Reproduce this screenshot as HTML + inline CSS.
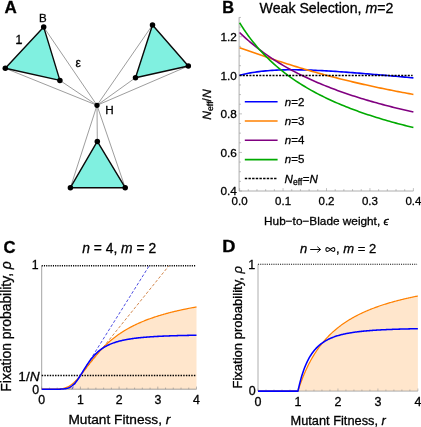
<!DOCTYPE html>
<html lang="en">
<head>
<meta charset="utf-8">
<title>Figure</title>
<style>
html,body{margin:0;padding:0;background:#fff;}
body{width:421px;height:427px;overflow:hidden;}
svg{display:block;will-change:transform;}
svg text{font-family:"Liberation Sans", sans-serif;fill:#000;stroke:#000;stroke-width:0.3px;}
svg g.rot text{text-rendering:geometricPrecision;}
</style>
</head>
<body>
<svg width="421" height="427" viewBox="0 0 421 427">
<rect x="0" y="0" width="421" height="427" fill="#fff"/>
<line x1="97.0" y1="105.3" x2="43.7" y2="27.1" stroke="#6e6e6e" stroke-width="0.68"/>
<line x1="97.0" y1="105.3" x2="5.3" y2="68.3" stroke="#6e6e6e" stroke-width="0.68"/>
<line x1="97.0" y1="105.3" x2="59.9" y2="80.4" stroke="#6e6e6e" stroke-width="0.68"/>
<line x1="97.0" y1="105.3" x2="152.5" y2="25.0" stroke="#6e6e6e" stroke-width="0.68"/>
<line x1="97.0" y1="105.3" x2="135.5" y2="77.7" stroke="#6e6e6e" stroke-width="0.68"/>
<line x1="97.0" y1="105.3" x2="188.3" y2="66.0" stroke="#6e6e6e" stroke-width="0.68"/>
<line x1="97.0" y1="105.3" x2="97.3" y2="141.4" stroke="#6e6e6e" stroke-width="0.68"/>
<line x1="97.0" y1="105.3" x2="70.4" y2="187.7" stroke="#6e6e6e" stroke-width="0.68"/>
<line x1="97.0" y1="105.3" x2="125.2" y2="187.7" stroke="#6e6e6e" stroke-width="0.68"/>
<polygon points="43.7,27.1 5.3,68.3 59.9,80.4" fill="#80F0E0" stroke="#0a0a0a" stroke-width="1.4" stroke-linejoin="round"/>
<polygon points="152.5,25.0 135.5,77.7 188.3,66.0" fill="#80F0E0" stroke="#0a0a0a" stroke-width="1.4" stroke-linejoin="round"/>
<polygon points="97.3,141.4 70.4,187.7 125.2,187.7" fill="#80F0E0" stroke="#0a0a0a" stroke-width="1.4" stroke-linejoin="round"/>
<circle cx="43.7" cy="27.1" r="2.75" fill="#000"/>
<circle cx="5.3" cy="68.3" r="2.75" fill="#000"/>
<circle cx="59.9" cy="80.4" r="2.75" fill="#000"/>
<circle cx="152.5" cy="25.0" r="2.75" fill="#000"/>
<circle cx="135.5" cy="77.7" r="2.75" fill="#000"/>
<circle cx="188.3" cy="66.0" r="2.75" fill="#000"/>
<circle cx="97.3" cy="141.4" r="2.75" fill="#000"/>
<circle cx="70.4" cy="187.7" r="2.75" fill="#000"/>
<circle cx="125.2" cy="187.7" r="2.75" fill="#000"/>
<circle cx="97.0" cy="105.3" r="2.6" fill="#000"/>
<text transform="translate(4.5,12.5) scale(1.07,1)" font-size="15.9" font-weight="bold" stroke="#000" stroke-width="0.5">A</text>
<text x="42.9" y="21.5" font-size="11.5" text-anchor="middle">B</text>
<text x="18.9" y="43.5" font-size="12" text-anchor="middle">1</text>
<line x1="16.5" y1="43.05" x2="22.1" y2="43.05" stroke="#000" stroke-width="0.95"/>
<text x="78.3" y="66.5" font-size="12" text-anchor="middle">ε</text>
<text x="109.4" y="114.3" font-size="11.7" text-anchor="middle">H</text>
<line x1="239.1" y1="17.3" x2="239.1" y2="191.0" stroke="#999999" stroke-width="0.8"/>
<line x1="239.1" y1="191.0" x2="413.4" y2="191.0" stroke="#999999" stroke-width="0.8"/>
<line x1="239.60" y1="191.0" x2="239.60" y2="188.1" stroke="#999999" stroke-width="0.6"/>
<line x1="248.29" y1="191.0" x2="248.29" y2="189.1" stroke="#999999" stroke-width="0.6"/>
<line x1="256.98" y1="191.0" x2="256.98" y2="189.1" stroke="#999999" stroke-width="0.6"/>
<line x1="265.67" y1="191.0" x2="265.67" y2="189.1" stroke="#999999" stroke-width="0.6"/>
<line x1="274.36" y1="191.0" x2="274.36" y2="189.1" stroke="#999999" stroke-width="0.6"/>
<line x1="283.05" y1="191.0" x2="283.05" y2="188.1" stroke="#999999" stroke-width="0.6"/>
<line x1="291.74" y1="191.0" x2="291.74" y2="189.1" stroke="#999999" stroke-width="0.6"/>
<line x1="300.43" y1="191.0" x2="300.43" y2="189.1" stroke="#999999" stroke-width="0.6"/>
<line x1="309.12" y1="191.0" x2="309.12" y2="189.1" stroke="#999999" stroke-width="0.6"/>
<line x1="317.81" y1="191.0" x2="317.81" y2="189.1" stroke="#999999" stroke-width="0.6"/>
<line x1="326.50" y1="191.0" x2="326.50" y2="188.1" stroke="#999999" stroke-width="0.6"/>
<line x1="335.19" y1="191.0" x2="335.19" y2="189.1" stroke="#999999" stroke-width="0.6"/>
<line x1="343.88" y1="191.0" x2="343.88" y2="189.1" stroke="#999999" stroke-width="0.6"/>
<line x1="352.57" y1="191.0" x2="352.57" y2="189.1" stroke="#999999" stroke-width="0.6"/>
<line x1="361.26" y1="191.0" x2="361.26" y2="189.1" stroke="#999999" stroke-width="0.6"/>
<line x1="369.95" y1="191.0" x2="369.95" y2="188.1" stroke="#999999" stroke-width="0.6"/>
<line x1="378.64" y1="191.0" x2="378.64" y2="189.1" stroke="#999999" stroke-width="0.6"/>
<line x1="387.33" y1="191.0" x2="387.33" y2="189.1" stroke="#999999" stroke-width="0.6"/>
<line x1="396.02" y1="191.0" x2="396.02" y2="189.1" stroke="#999999" stroke-width="0.6"/>
<line x1="404.71" y1="191.0" x2="404.71" y2="189.1" stroke="#999999" stroke-width="0.6"/>
<line x1="413.40" y1="191.0" x2="413.40" y2="188.1" stroke="#999999" stroke-width="0.6"/>
<line x1="239.1" y1="191.00" x2="242.0" y2="191.00" stroke="#999999" stroke-width="0.6"/>
<line x1="239.1" y1="181.36" x2="241.0" y2="181.36" stroke="#999999" stroke-width="0.6"/>
<line x1="239.1" y1="171.72" x2="241.0" y2="171.72" stroke="#999999" stroke-width="0.6"/>
<line x1="239.1" y1="162.07" x2="241.0" y2="162.07" stroke="#999999" stroke-width="0.6"/>
<line x1="239.1" y1="152.43" x2="242.0" y2="152.43" stroke="#999999" stroke-width="0.6"/>
<line x1="239.1" y1="142.79" x2="241.0" y2="142.79" stroke="#999999" stroke-width="0.6"/>
<line x1="239.1" y1="133.15" x2="241.0" y2="133.15" stroke="#999999" stroke-width="0.6"/>
<line x1="239.1" y1="123.51" x2="241.0" y2="123.51" stroke="#999999" stroke-width="0.6"/>
<line x1="239.1" y1="113.87" x2="242.0" y2="113.87" stroke="#999999" stroke-width="0.6"/>
<line x1="239.1" y1="104.22" x2="241.0" y2="104.22" stroke="#999999" stroke-width="0.6"/>
<line x1="239.1" y1="94.58" x2="241.0" y2="94.58" stroke="#999999" stroke-width="0.6"/>
<line x1="239.1" y1="84.94" x2="241.0" y2="84.94" stroke="#999999" stroke-width="0.6"/>
<line x1="239.1" y1="75.30" x2="242.0" y2="75.30" stroke="#999999" stroke-width="0.6"/>
<line x1="239.1" y1="65.66" x2="241.0" y2="65.66" stroke="#999999" stroke-width="0.6"/>
<line x1="239.1" y1="56.02" x2="241.0" y2="56.02" stroke="#999999" stroke-width="0.6"/>
<line x1="239.1" y1="46.38" x2="241.0" y2="46.38" stroke="#999999" stroke-width="0.6"/>
<line x1="239.1" y1="36.73" x2="242.0" y2="36.73" stroke="#999999" stroke-width="0.6"/>
<line x1="239.1" y1="27.09" x2="241.0" y2="27.09" stroke="#999999" stroke-width="0.6"/>
<line x1="239.1" y1="17.45" x2="241.0" y2="17.45" stroke="#999999" stroke-width="0.6"/>
<text x="236.9" y="195.20" font-size="11.8" text-anchor="end">0.4</text>
<text x="236.9" y="156.63" font-size="11.8" text-anchor="end">0.6</text>
<text x="236.9" y="118.07" font-size="11.8" text-anchor="end">0.8</text>
<text x="236.9" y="79.50" font-size="11.8" text-anchor="end">1.0</text>
<text x="236.9" y="40.93" font-size="11.8" text-anchor="end">1.2</text>
<text x="239.60" y="205.0" font-size="11.5" text-anchor="middle">0.0</text>
<text x="283.05" y="205.0" font-size="11.5" text-anchor="middle">0.1</text>
<text x="326.50" y="205.0" font-size="11.5" text-anchor="middle">0.2</text>
<text x="369.95" y="205.0" font-size="11.5" text-anchor="middle">0.3</text>
<text x="413.40" y="205.0" font-size="11.5" text-anchor="middle">0.4</text>
<path d="M239.60,75.30 L241.77,74.74 L243.94,74.23 L246.12,73.75 L248.29,73.31 L250.46,72.90 L252.63,72.53 L254.81,72.19 L256.98,71.87 L259.15,71.59 L261.32,71.33 L263.50,71.09 L265.67,70.88 L267.84,70.69 L270.01,70.52 L272.19,70.38 L274.36,70.25 L276.53,70.14 L278.70,70.04 L280.88,69.96 L283.05,69.90 L285.22,69.85 L287.39,69.82 L289.57,69.80 L291.74,69.79 L293.91,69.79 L296.08,69.80 L298.26,69.83 L300.43,69.86 L302.60,69.91 L304.77,69.96 L306.95,70.02 L309.12,70.09 L311.29,70.17 L313.46,70.25 L315.64,70.34 L317.81,70.44 L319.98,70.55 L322.15,70.66 L324.33,70.77 L326.50,70.89 L328.67,71.02 L330.84,71.15 L333.02,71.28 L335.19,71.42 L337.36,71.57 L339.53,71.71 L341.71,71.86 L343.88,72.02 L346.05,72.17 L348.22,72.33 L350.40,72.50 L352.57,72.66 L354.74,72.83 L356.91,73.00 L359.09,73.17 L361.26,73.35 L363.43,73.52 L365.60,73.70 L367.78,73.88 L369.95,74.06 L372.12,74.24 L374.29,74.43 L376.47,74.61 L378.64,74.80 L380.81,74.99 L382.99,75.17 L385.16,75.36 L387.33,75.55 L389.50,75.74 L391.67,75.94 L393.85,76.13 L396.02,76.32 L398.19,76.51 L400.37,76.71 L402.54,76.90 L404.71,77.09 L406.88,77.29 L409.05,77.48 L411.23,77.68 L413.40,77.87" fill="none" stroke="#0000FF" stroke-width="1.6" stroke-linecap="butt"/>
<path d="M239.60,47.75 L241.77,48.51 L243.94,49.27 L246.12,50.03 L248.29,50.79 L250.46,51.55 L252.63,52.31 L254.81,53.07 L256.98,53.82 L259.15,54.57 L261.32,55.32 L263.50,56.06 L265.67,56.80 L267.84,57.54 L270.01,58.27 L272.19,58.99 L274.36,59.72 L276.53,60.43 L278.70,61.14 L280.88,61.85 L283.05,62.55 L285.22,63.24 L287.39,63.93 L289.57,64.61 L291.74,65.29 L293.91,65.96 L296.08,66.62 L298.26,67.28 L300.43,67.93 L302.60,68.58 L304.77,69.22 L306.95,69.86 L309.12,70.48 L311.29,71.11 L313.46,71.72 L315.64,72.33 L317.81,72.94 L319.98,73.54 L322.15,74.13 L324.33,74.72 L326.50,75.30 L328.67,75.88 L330.84,76.45 L333.02,77.01 L335.19,77.57 L337.36,78.12 L339.53,78.67 L341.71,79.21 L343.88,79.75 L346.05,80.28 L348.22,80.81 L350.40,81.33 L352.57,81.85 L354.74,82.36 L356.91,82.86 L359.09,83.37 L361.26,83.86 L363.43,84.35 L365.60,84.84 L367.78,85.32 L369.95,85.80 L372.12,86.27 L374.29,86.74 L376.47,87.20 L378.64,87.66 L380.81,88.11 L382.99,88.56 L385.16,89.01 L387.33,89.45 L389.50,89.89 L391.67,90.32 L393.85,90.75 L396.02,91.17 L398.19,91.59 L400.37,92.01 L402.54,92.42 L404.71,92.83 L406.88,93.24 L409.05,93.64 L411.23,94.04 L413.40,94.43" fill="none" stroke="#FF8000" stroke-width="1.6" stroke-linecap="butt"/>
<path d="M239.60,32.45 L241.77,34.56 L243.94,36.60 L246.12,38.59 L248.29,40.52 L250.46,42.39 L252.63,44.21 L254.81,45.98 L256.98,47.70 L259.15,49.38 L261.32,51.01 L263.50,52.60 L265.67,54.16 L267.84,55.67 L270.01,57.15 L272.19,58.59 L274.36,60.00 L276.53,61.38 L278.70,62.72 L280.88,64.04 L283.05,65.33 L285.22,66.58 L287.39,67.82 L289.57,69.02 L291.74,70.20 L293.91,71.36 L296.08,72.49 L298.26,73.60 L300.43,74.69 L302.60,75.75 L304.77,76.80 L306.95,77.83 L309.12,78.83 L311.29,79.82 L313.46,80.79 L315.64,81.74 L317.81,82.68 L319.98,83.60 L322.15,84.50 L324.33,85.38 L326.50,86.25 L328.67,87.11 L330.84,87.95 L333.02,88.78 L335.19,89.59 L337.36,90.39 L339.53,91.18 L341.71,91.95 L343.88,92.72 L346.05,93.47 L348.22,94.21 L350.40,94.93 L352.57,95.65 L354.74,96.35 L356.91,97.05 L359.09,97.73 L361.26,98.40 L363.43,99.07 L365.60,99.72 L367.78,100.36 L369.95,101.00 L372.12,101.63 L374.29,102.24 L376.47,102.85 L378.64,103.45 L380.81,104.04 L382.99,104.63 L385.16,105.20 L387.33,105.77 L389.50,106.33 L391.67,106.88 L393.85,107.43 L396.02,107.97 L398.19,108.50 L400.37,109.02 L402.54,109.54 L404.71,110.05 L406.88,110.55 L409.05,111.05 L411.23,111.54 L413.40,112.03" fill="none" stroke="#800080" stroke-width="1.6" stroke-linecap="butt"/>
<path d="M239.60,22.71 L241.77,26.18 L243.94,29.49 L246.12,32.66 L248.29,35.70 L250.46,38.62 L252.63,41.41 L254.81,44.10 L256.98,46.69 L259.15,49.18 L261.32,51.58 L263.50,53.90 L265.67,56.14 L267.84,58.30 L270.01,60.39 L272.19,62.41 L274.36,64.37 L276.53,66.27 L278.70,68.11 L280.88,69.89 L283.05,71.62 L285.22,73.31 L287.39,74.94 L289.57,76.53 L291.74,78.08 L293.91,79.59 L296.08,81.05 L298.26,82.48 L300.43,83.87 L302.60,85.23 L304.77,86.55 L306.95,87.84 L309.12,89.10 L311.29,90.33 L313.46,91.53 L315.64,92.71 L317.81,93.85 L319.98,94.98 L322.15,96.07 L324.33,97.15 L326.50,98.20 L328.67,99.22 L330.84,100.23 L333.02,101.22 L335.19,102.18 L337.36,103.13 L339.53,104.06 L341.71,104.97 L343.88,105.86 L346.05,106.73 L348.22,107.59 L350.40,108.43 L352.57,109.26 L354.74,110.07 L356.91,110.87 L359.09,111.65 L361.26,112.42 L363.43,113.18 L365.60,113.92 L367.78,114.65 L369.95,115.36 L372.12,116.07 L374.29,116.76 L376.47,117.44 L378.64,118.11 L380.81,118.77 L382.99,119.42 L385.16,120.06 L387.33,120.69 L389.50,121.31 L391.67,121.92 L393.85,122.51 L396.02,123.11 L398.19,123.69 L400.37,124.26 L402.54,124.82 L404.71,125.38 L406.88,125.93 L409.05,126.47 L411.23,127.00 L413.40,127.53" fill="none" stroke="#00AA00" stroke-width="1.6" stroke-linecap="butt"/>
<line x1="239.5" y1="75.5" x2="412.6" y2="75.5" stroke="#000" stroke-width="1.6" stroke-dasharray="2.0 1.3"/>
<line x1="244.8" y1="101.8" x2="277.6" y2="101.8" stroke="#0000FF" stroke-width="1.6"/>
<text x="284.8" y="105.65" font-size="11.5"><tspan font-style="italic">n</tspan>=2</text>
<line x1="244.8" y1="121.0" x2="277.6" y2="121.0" stroke="#FF8000" stroke-width="1.6"/>
<text x="284.8" y="124.85" font-size="11.5"><tspan font-style="italic">n</tspan>=3</text>
<line x1="244.8" y1="140.3" x2="277.6" y2="140.3" stroke="#800080" stroke-width="1.6"/>
<text x="284.8" y="144.15" font-size="11.5"><tspan font-style="italic">n</tspan>=4</text>
<line x1="244.8" y1="159.6" x2="277.6" y2="159.6" stroke="#00AA00" stroke-width="1.6"/>
<text x="284.8" y="163.45" font-size="11.5"><tspan font-style="italic">n</tspan>=5</text>
<line x1="244.8" y1="178.5" x2="277.2" y2="178.5" stroke="#000" stroke-width="1.6" stroke-dasharray="2.4 1.26"/>
<text x="284.6" y="182.7" font-size="11.6"><tspan font-style="italic">N</tspan><tspan font-size="8.5" dy="2.0" style="font-variant-ligatures:none">eff</tspan><tspan dy="-2.0" dx="0.5">=</tspan><tspan font-style="italic">N</tspan></text>
<text transform="translate(222.2,12.6) scale(1.03,1)" font-size="15.9" font-weight="bold" stroke="#000" stroke-width="0.5">B</text>
<text x="326.5" y="13.2" font-size="14.15" text-anchor="middle">Weak Selection, <tspan font-style="italic">m</tspan>=2</text>
<text x="264.1" y="224.6" font-size="11.8">Hub−to−Blade weight, <tspan font-style="italic">ϵ</tspan></text>
<g class="rot" transform="translate(211.2,104.6) rotate(-90)"><text x="-15.1" y="0" font-size="12" font-style="italic">N</text><text x="-6.35" y="2.0" font-size="8.6" style="font-variant-ligatures:none;font-kerning:none">e<tspan>f</tspan><tspan>f</tspan></text><text x="3.2" y="0" font-size="12">/<tspan font-style="italic">N</tspan></text></g>
<path d="M41.72,389.20 L42.37,389.20 L43.01,389.20 L43.66,389.20 L44.31,389.20 L44.96,389.20 L45.61,389.20 L46.25,389.20 L46.90,389.20 L47.55,389.20 L48.20,389.20 L48.84,389.20 L49.49,389.20 L50.14,389.20 L50.79,389.20 L51.43,389.19 L52.08,389.19 L52.73,389.19 L53.38,389.18 L54.02,389.18 L54.67,389.17 L55.32,389.15 L55.97,389.14 L56.61,389.11 L57.26,389.09 L57.91,389.06 L58.56,389.02 L59.21,388.97 L59.85,388.91 L60.50,388.84 L61.15,388.76 L61.80,388.66 L62.44,388.55 L63.09,388.42 L63.74,388.27 L64.39,388.11 L65.03,387.92 L65.68,387.70 L66.33,387.47 L66.98,387.20 L67.62,386.92 L68.27,386.60 L68.92,386.25 L69.57,385.88 L70.21,385.47 L70.86,385.04 L71.51,384.57 L72.16,384.08 L72.81,383.55 L73.45,383.00 L74.10,382.41 L74.75,381.80 L75.40,381.17 L76.04,380.50 L76.69,379.82 L77.34,379.11 L77.99,378.37 L78.63,377.62 L79.28,376.85 L79.93,376.07 L80.58,375.27 L81.22,374.46 L81.87,373.63 L82.52,372.80 L83.17,371.96 L83.81,371.11 L84.46,370.25 L85.11,369.40 L85.76,368.54 L86.40,367.68 L87.05,366.82 L87.70,365.96 L88.35,365.10 L89.00,364.25 L89.64,363.40 L90.29,362.56 L90.94,361.72 L91.59,360.89 L92.23,360.07 L92.88,359.25 L93.53,358.44 L94.18,357.64 L94.82,356.85 L95.47,356.07 L96.12,355.30 L96.77,354.54 L97.41,353.78 L98.06,353.04 L98.71,352.31 L99.36,351.59 L100.00,350.87 L100.65,350.17 L101.30,349.48 L101.95,348.80 L102.60,348.13 L103.24,347.47 L103.89,346.82 L104.54,346.17 L105.19,345.54 L105.83,344.92 L106.48,344.31 L107.13,343.71 L107.78,343.12 L108.42,342.53 L109.07,341.96 L109.72,341.39 L110.37,340.84 L111.01,340.29 L111.66,339.75 L112.31,339.22 L112.96,338.70 L113.60,338.19 L114.25,337.68 L114.90,337.18 L115.55,336.70 L116.20,336.21 L116.84,335.74 L117.49,335.27 L118.14,334.81 L118.79,334.36 L119.43,333.91 L120.08,333.47 L120.73,333.04 L121.38,332.61 L122.02,332.19 L122.67,331.78 L123.32,331.37 L123.97,330.97 L124.61,330.58 L125.26,330.19 L125.91,329.80 L126.56,329.42 L127.20,329.05 L127.85,328.68 L128.50,328.32 L129.15,327.96 L129.80,327.61 L130.44,327.26 L131.09,326.92 L131.74,326.58 L132.39,326.25 L133.03,325.92 L133.68,325.60 L134.33,325.28 L134.98,324.96 L135.62,324.65 L136.27,324.35 L136.92,324.04 L137.57,323.74 L138.21,323.45 L138.86,323.16 L139.51,322.87 L140.16,322.59 L140.80,322.31 L141.45,322.03 L142.10,321.76 L142.75,321.49 L143.40,321.22 L144.04,320.96 L144.69,320.70 L145.34,320.44 L145.99,320.19 L146.63,319.94 L147.28,319.69 L147.93,319.45 L148.58,319.21 L149.22,318.97 L149.87,318.74 L150.52,318.50 L151.17,318.27 L151.81,318.05 L152.46,317.82 L153.11,317.60 L153.76,317.38 L154.40,317.16 L155.05,316.95 L155.70,316.73 L156.35,316.52 L157.00,316.32 L157.64,316.11 L158.29,315.91 L158.94,315.71 L159.59,315.51 L160.23,315.31 L160.88,315.12 L161.53,314.93 L162.18,314.74 L162.82,314.55 L163.47,314.36 L164.12,314.18 L164.77,314.00 L165.41,313.82 L166.06,313.64 L166.71,313.46 L167.36,313.29 L168.00,313.11 L168.65,312.94 L169.30,312.77 L169.95,312.61 L170.60,312.44 L171.24,312.27 L171.89,312.11 L172.54,311.95 L173.19,311.79 L173.83,311.63 L174.48,311.48 L175.13,311.32 L175.78,311.17 L176.42,311.02 L177.07,310.87 L177.72,310.72 L178.37,310.57 L179.01,310.42 L179.66,310.28 L180.31,310.13 L180.96,309.99 L181.60,309.85 L182.25,309.71 L182.90,309.57 L183.55,309.43 L184.20,309.30 L184.84,309.16 L185.49,309.03 L186.14,308.90 L186.79,308.77 L187.43,308.64 L188.08,308.51 L188.73,308.38 L189.38,308.25 L190.02,308.13 L190.67,308.00 L191.32,307.88 L191.97,307.76 L192.61,307.64 L193.26,307.52 L193.91,307.40 L194.56,307.28 L195.20,307.16 L195.85,307.05 L196.50,306.93 L196.50,389.2 L41.7,389.2 Z" fill="#FFE6CC" stroke="none"/>
<line x1="41.7" y1="265.8" x2="41.7" y2="389.2" stroke="#8c8c8c" stroke-width="0.8"/>
<line x1="41.7" y1="389.2" x2="196.50" y2="389.2" stroke="#8c8c8c" stroke-width="0.8"/>
<line x1="41.70" y1="389.2" x2="41.70" y2="386.59999999999997" stroke="#8c8c8c" stroke-width="0.6"/>
<line x1="49.44" y1="389.2" x2="49.44" y2="387.59999999999997" stroke="#8c8c8c" stroke-width="0.6"/>
<line x1="57.18" y1="389.2" x2="57.18" y2="387.59999999999997" stroke="#8c8c8c" stroke-width="0.6"/>
<line x1="64.92" y1="389.2" x2="64.92" y2="387.59999999999997" stroke="#8c8c8c" stroke-width="0.6"/>
<line x1="72.66" y1="389.2" x2="72.66" y2="387.59999999999997" stroke="#8c8c8c" stroke-width="0.6"/>
<line x1="80.40" y1="389.2" x2="80.40" y2="386.59999999999997" stroke="#8c8c8c" stroke-width="0.6"/>
<line x1="88.14" y1="389.2" x2="88.14" y2="387.59999999999997" stroke="#8c8c8c" stroke-width="0.6"/>
<line x1="95.88" y1="389.2" x2="95.88" y2="387.59999999999997" stroke="#8c8c8c" stroke-width="0.6"/>
<line x1="103.62" y1="389.2" x2="103.62" y2="387.59999999999997" stroke="#8c8c8c" stroke-width="0.6"/>
<line x1="111.36" y1="389.2" x2="111.36" y2="387.59999999999997" stroke="#8c8c8c" stroke-width="0.6"/>
<line x1="119.10" y1="389.2" x2="119.10" y2="386.59999999999997" stroke="#8c8c8c" stroke-width="0.6"/>
<line x1="126.84" y1="389.2" x2="126.84" y2="387.59999999999997" stroke="#8c8c8c" stroke-width="0.6"/>
<line x1="134.58" y1="389.2" x2="134.58" y2="387.59999999999997" stroke="#8c8c8c" stroke-width="0.6"/>
<line x1="142.32" y1="389.2" x2="142.32" y2="387.59999999999997" stroke="#8c8c8c" stroke-width="0.6"/>
<line x1="150.06" y1="389.2" x2="150.06" y2="387.59999999999997" stroke="#8c8c8c" stroke-width="0.6"/>
<line x1="157.80" y1="389.2" x2="157.80" y2="386.59999999999997" stroke="#8c8c8c" stroke-width="0.6"/>
<line x1="165.54" y1="389.2" x2="165.54" y2="387.59999999999997" stroke="#8c8c8c" stroke-width="0.6"/>
<line x1="173.28" y1="389.2" x2="173.28" y2="387.59999999999997" stroke="#8c8c8c" stroke-width="0.6"/>
<line x1="181.02" y1="389.2" x2="181.02" y2="387.59999999999997" stroke="#8c8c8c" stroke-width="0.6"/>
<line x1="188.76" y1="389.2" x2="188.76" y2="387.59999999999997" stroke="#8c8c8c" stroke-width="0.6"/>
<line x1="196.50" y1="389.2" x2="196.50" y2="386.59999999999997" stroke="#8c8c8c" stroke-width="0.6"/>
<line x1="41.7" y1="265.8" x2="195.70" y2="265.8" stroke="#000" stroke-width="1.4" stroke-dasharray="1.12 1.12"/>
<line x1="41.7" y1="375.49" x2="195.70" y2="375.49" stroke="#000" stroke-width="1.35" stroke-dasharray="1.45 1.22"/>
<line x1="71.80" y1="389.2" x2="149.20" y2="265.8" stroke="#4646E0" stroke-width="0.95" stroke-dasharray="3.0 1.9"/>
<line x1="69.34" y1="389.2" x2="168.86" y2="265.8" stroke="#D08244" stroke-width="0.95" stroke-dasharray="3.0 1.9"/>
<path d="M41.72,389.20 L42.37,389.20 L43.01,389.20 L43.66,389.20 L44.31,389.20 L44.96,389.20 L45.61,389.20 L46.25,389.20 L46.90,389.20 L47.55,389.20 L48.20,389.20 L48.84,389.20 L49.49,389.20 L50.14,389.20 L50.79,389.20 L51.43,389.19 L52.08,389.19 L52.73,389.19 L53.38,389.18 L54.02,389.18 L54.67,389.17 L55.32,389.15 L55.97,389.14 L56.61,389.11 L57.26,389.09 L57.91,389.06 L58.56,389.02 L59.21,388.97 L59.85,388.91 L60.50,388.84 L61.15,388.76 L61.80,388.66 L62.44,388.55 L63.09,388.42 L63.74,388.27 L64.39,388.11 L65.03,387.92 L65.68,387.70 L66.33,387.47 L66.98,387.20 L67.62,386.92 L68.27,386.60 L68.92,386.25 L69.57,385.88 L70.21,385.47 L70.86,385.04 L71.51,384.57 L72.16,384.08 L72.81,383.55 L73.45,383.00 L74.10,382.41 L74.75,381.80 L75.40,381.17 L76.04,380.50 L76.69,379.82 L77.34,379.11 L77.99,378.37 L78.63,377.62 L79.28,376.85 L79.93,376.07 L80.58,375.27 L81.22,374.46 L81.87,373.63 L82.52,372.80 L83.17,371.96 L83.81,371.11 L84.46,370.25 L85.11,369.40 L85.76,368.54 L86.40,367.68 L87.05,366.82 L87.70,365.96 L88.35,365.10 L89.00,364.25 L89.64,363.40 L90.29,362.56 L90.94,361.72 L91.59,360.89 L92.23,360.07 L92.88,359.25 L93.53,358.44 L94.18,357.64 L94.82,356.85 L95.47,356.07 L96.12,355.30 L96.77,354.54 L97.41,353.78 L98.06,353.04 L98.71,352.31 L99.36,351.59 L100.00,350.87 L100.65,350.17 L101.30,349.48 L101.95,348.80 L102.60,348.13 L103.24,347.47 L103.89,346.82 L104.54,346.17 L105.19,345.54 L105.83,344.92 L106.48,344.31 L107.13,343.71 L107.78,343.12 L108.42,342.53 L109.07,341.96 L109.72,341.39 L110.37,340.84 L111.01,340.29 L111.66,339.75 L112.31,339.22 L112.96,338.70 L113.60,338.19 L114.25,337.68 L114.90,337.18 L115.55,336.70 L116.20,336.21 L116.84,335.74 L117.49,335.27 L118.14,334.81 L118.79,334.36 L119.43,333.91 L120.08,333.47 L120.73,333.04 L121.38,332.61 L122.02,332.19 L122.67,331.78 L123.32,331.37 L123.97,330.97 L124.61,330.58 L125.26,330.19 L125.91,329.80 L126.56,329.42 L127.20,329.05 L127.85,328.68 L128.50,328.32 L129.15,327.96 L129.80,327.61 L130.44,327.26 L131.09,326.92 L131.74,326.58 L132.39,326.25 L133.03,325.92 L133.68,325.60 L134.33,325.28 L134.98,324.96 L135.62,324.65 L136.27,324.35 L136.92,324.04 L137.57,323.74 L138.21,323.45 L138.86,323.16 L139.51,322.87 L140.16,322.59 L140.80,322.31 L141.45,322.03 L142.10,321.76 L142.75,321.49 L143.40,321.22 L144.04,320.96 L144.69,320.70 L145.34,320.44 L145.99,320.19 L146.63,319.94 L147.28,319.69 L147.93,319.45 L148.58,319.21 L149.22,318.97 L149.87,318.74 L150.52,318.50 L151.17,318.27 L151.81,318.05 L152.46,317.82 L153.11,317.60 L153.76,317.38 L154.40,317.16 L155.05,316.95 L155.70,316.73 L156.35,316.52 L157.00,316.32 L157.64,316.11 L158.29,315.91 L158.94,315.71 L159.59,315.51 L160.23,315.31 L160.88,315.12 L161.53,314.93 L162.18,314.74 L162.82,314.55 L163.47,314.36 L164.12,314.18 L164.77,314.00 L165.41,313.82 L166.06,313.64 L166.71,313.46 L167.36,313.29 L168.00,313.11 L168.65,312.94 L169.30,312.77 L169.95,312.61 L170.60,312.44 L171.24,312.27 L171.89,312.11 L172.54,311.95 L173.19,311.79 L173.83,311.63 L174.48,311.48 L175.13,311.32 L175.78,311.17 L176.42,311.02 L177.07,310.87 L177.72,310.72 L178.37,310.57 L179.01,310.42 L179.66,310.28 L180.31,310.13 L180.96,309.99 L181.60,309.85 L182.25,309.71 L182.90,309.57 L183.55,309.43 L184.20,309.30 L184.84,309.16 L185.49,309.03 L186.14,308.90 L186.79,308.77 L187.43,308.64 L188.08,308.51 L188.73,308.38 L189.38,308.25 L190.02,308.13 L190.67,308.00 L191.32,307.88 L191.97,307.76 L192.61,307.64 L193.26,307.52 L193.91,307.40 L194.56,307.28 L195.20,307.16 L195.85,307.05 L196.50,306.93" fill="none" stroke="#FF8000" stroke-width="1.25"/>
<path d="M41.72,389.20 L42.37,389.20 L43.01,389.20 L43.66,389.20 L44.31,389.20 L44.96,389.20 L45.61,389.20 L46.25,389.20 L46.90,389.20 L47.55,389.20 L48.20,389.20 L48.84,389.20 L49.49,389.20 L50.14,389.20 L50.79,389.20 L51.43,389.20 L52.08,389.20 L52.73,389.20 L53.38,389.20 L54.02,389.20 L54.67,389.20 L55.32,389.20 L55.97,389.19 L56.61,389.19 L57.26,389.19 L57.91,389.18 L58.56,389.17 L59.21,389.16 L59.85,389.15 L60.50,389.13 L61.15,389.10 L61.80,389.07 L62.44,389.03 L63.09,388.98 L63.74,388.92 L64.39,388.84 L65.03,388.75 L65.68,388.64 L66.33,388.50 L66.98,388.34 L67.62,388.15 L68.27,387.93 L68.92,387.67 L69.57,387.38 L70.21,387.04 L70.86,386.66 L71.51,386.23 L72.16,385.75 L72.81,385.22 L73.45,384.64 L74.10,384.00 L74.75,383.32 L75.40,382.58 L76.04,381.80 L76.69,380.96 L77.34,380.09 L77.99,379.17 L78.63,378.22 L79.28,377.24 L79.93,376.24 L80.58,375.21 L81.22,374.16 L81.87,373.11 L82.52,372.05 L83.17,370.98 L83.81,369.92 L84.46,368.87 L85.11,367.83 L85.76,366.80 L86.40,365.79 L87.05,364.80 L87.70,363.82 L88.35,362.87 L89.00,361.95 L89.64,361.05 L90.29,360.17 L90.94,359.32 L91.59,358.50 L92.23,357.71 L92.88,356.94 L93.53,356.20 L94.18,355.48 L94.82,354.79 L95.47,354.12 L96.12,353.48 L96.77,352.86 L97.41,352.27 L98.06,351.70 L98.71,351.15 L99.36,350.62 L100.00,350.11 L100.65,349.62 L101.30,349.15 L101.95,348.69 L102.60,348.25 L103.24,347.83 L103.89,347.43 L104.54,347.04 L105.19,346.67 L105.83,346.31 L106.48,345.96 L107.13,345.62 L107.78,345.30 L108.42,344.99 L109.07,344.69 L109.72,344.41 L110.37,344.13 L111.01,343.86 L111.66,343.60 L112.31,343.35 L112.96,343.11 L113.60,342.88 L114.25,342.65 L114.90,342.44 L115.55,342.23 L116.20,342.03 L116.84,341.83 L117.49,341.64 L118.14,341.46 L118.79,341.28 L119.43,341.11 L120.08,340.95 L120.73,340.79 L121.38,340.63 L122.02,340.48 L122.67,340.34 L123.32,340.20 L123.97,340.06 L124.61,339.93 L125.26,339.80 L125.91,339.67 L126.56,339.55 L127.20,339.44 L127.85,339.32 L128.50,339.21 L129.15,339.11 L129.80,339.00 L130.44,338.90 L131.09,338.80 L131.74,338.71 L132.39,338.62 L133.03,338.53 L133.68,338.44 L134.33,338.35 L134.98,338.27 L135.62,338.19 L136.27,338.11 L136.92,338.04 L137.57,337.96 L138.21,337.89 L138.86,337.82 L139.51,337.75 L140.16,337.69 L140.80,337.62 L141.45,337.56 L142.10,337.50 L142.75,337.44 L143.40,337.38 L144.04,337.32 L144.69,337.27 L145.34,337.21 L145.99,337.16 L146.63,337.11 L147.28,337.06 L147.93,337.01 L148.58,336.96 L149.22,336.91 L149.87,336.87 L150.52,336.82 L151.17,336.78 L151.81,336.74 L152.46,336.69 L153.11,336.65 L153.76,336.61 L154.40,336.58 L155.05,336.54 L155.70,336.50 L156.35,336.46 L157.00,336.43 L157.64,336.39 L158.29,336.36 L158.94,336.33 L159.59,336.30 L160.23,336.26 L160.88,336.23 L161.53,336.20 L162.18,336.17 L162.82,336.14 L163.47,336.12 L164.12,336.09 L164.77,336.06 L165.41,336.03 L166.06,336.01 L166.71,335.98 L167.36,335.96 L168.00,335.93 L168.65,335.91 L169.30,335.89 L169.95,335.86 L170.60,335.84 L171.24,335.82 L171.89,335.80 L172.54,335.77 L173.19,335.75 L173.83,335.73 L174.48,335.71 L175.13,335.69 L175.78,335.67 L176.42,335.66 L177.07,335.64 L177.72,335.62 L178.37,335.60 L179.01,335.58 L179.66,335.57 L180.31,335.55 L180.96,335.53 L181.60,335.52 L182.25,335.50 L182.90,335.48 L183.55,335.47 L184.20,335.45 L184.84,335.44 L185.49,335.42 L186.14,335.41 L186.79,335.40 L187.43,335.38 L188.08,335.37 L188.73,335.36 L189.38,335.34 L190.02,335.33 L190.67,335.32 L191.32,335.30 L191.97,335.29 L192.61,335.28 L193.26,335.27 L193.91,335.26 L194.56,335.25 L195.20,335.23 L195.85,335.22 L196.50,335.21" fill="none" stroke="#0000FF" stroke-width="1.55"/>
<text transform="translate(3.6,252.7) scale(1.05,1)" font-size="15.9" font-weight="bold" stroke="#000" stroke-width="0.5">C</text>
<text x="119.2" y="253.1" font-size="13.85" text-anchor="middle"><tspan font-style="italic">n</tspan> = 4, <tspan font-style="italic">m</tspan> = 2</text>
<text x="38.6" y="269.4" font-size="12.3" text-anchor="end">1</text>
<text x="39.2" y="393.6" font-size="12.3" text-anchor="end">0</text>
<text x="39.6" y="381.3" font-size="13.7" text-anchor="end">1/<tspan font-style="italic">N</tspan></text>
<text x="41.70" y="404.2" font-size="12.3" text-anchor="middle">0</text>
<text x="80.40" y="404.2" font-size="12.3" text-anchor="middle">1</text>
<text x="119.10" y="404.2" font-size="12.3" text-anchor="middle">2</text>
<text x="157.80" y="404.2" font-size="12.3" text-anchor="middle">3</text>
<text x="196.50" y="404.2" font-size="12.3" text-anchor="middle">4</text>
<text x="119.4" y="424.3" font-size="13.7" text-anchor="middle">Mutant Fitness, <tspan font-style="italic">r</tspan></text>
<text transform="translate(10.9,326.4) rotate(-90)" font-size="13.9" text-anchor="middle">Fixation probability, <tspan font-style="italic">ρ</tspan></text>
<path d="M297.97,391.10 L298.72,388.75 L299.48,386.49 L300.23,384.31 L300.99,382.20 L301.74,380.17 L302.49,378.21 L303.25,376.31 L304.00,374.47 L304.76,372.69 L305.51,370.97 L306.27,369.31 L307.02,367.69 L307.77,366.12 L308.53,364.60 L309.28,363.13 L310.04,361.70 L310.79,360.31 L311.54,358.95 L312.30,357.64 L313.05,356.36 L313.81,355.12 L314.56,353.91 L315.32,352.73 L316.07,351.58 L316.82,350.46 L317.58,349.37 L318.33,348.31 L319.09,347.27 L319.84,346.26 L320.59,345.27 L321.35,344.30 L322.10,343.36 L322.86,342.44 L323.61,341.55 L324.37,340.67 L325.12,339.81 L325.87,338.97 L326.63,338.15 L327.38,337.35 L328.14,336.56 L328.89,335.79 L329.64,335.04 L330.40,334.30 L331.15,333.58 L331.91,332.88 L332.66,332.18 L333.42,331.50 L334.17,330.84 L334.92,330.19 L335.68,329.55 L336.43,328.92 L337.19,328.30 L337.94,327.70 L338.69,327.11 L339.45,326.53 L340.20,325.96 L340.96,325.39 L341.71,324.84 L342.46,324.30 L343.22,323.77 L343.97,323.25 L344.73,322.74 L345.48,322.23 L346.24,321.74 L346.99,321.25 L347.74,320.77 L348.50,320.30 L349.25,319.84 L350.01,319.39 L350.76,318.94 L351.51,318.50 L352.27,318.06 L353.02,317.64 L353.78,317.22 L354.53,316.80 L355.29,316.40 L356.04,316.00 L356.79,315.60 L357.55,315.21 L358.30,314.83 L359.06,314.45 L359.81,314.08 L360.56,313.71 L361.32,313.35 L362.07,313.00 L362.83,312.65 L363.58,312.30 L364.34,311.96 L365.09,311.63 L365.84,311.30 L366.60,310.97 L367.35,310.65 L368.11,310.33 L368.86,310.02 L369.61,309.71 L370.37,309.40 L371.12,309.10 L371.88,308.81 L372.63,308.51 L373.39,308.22 L374.14,307.94 L374.89,307.66 L375.65,307.38 L376.40,307.11 L377.16,306.83 L377.91,306.57 L378.66,306.30 L379.42,306.04 L380.17,305.78 L380.93,305.53 L381.68,305.28 L382.43,305.03 L383.19,304.78 L383.94,304.54 L384.70,304.30 L385.45,304.07 L386.21,303.83 L386.96,303.60 L387.71,303.37 L388.47,303.15 L389.22,302.92 L389.98,302.70 L390.73,302.48 L391.48,302.27 L392.24,302.06 L392.99,301.84 L393.75,301.64 L394.50,301.43 L395.26,301.23 L396.01,301.02 L396.76,300.82 L397.52,300.63 L398.27,300.43 L399.03,300.24 L399.78,300.05 L400.53,299.86 L401.29,299.67 L402.04,299.49 L402.80,299.30 L403.55,299.12 L404.31,298.94 L405.06,298.76 L405.81,298.59 L406.57,298.41 L407.32,298.24 L408.08,298.07 L408.83,297.90 L409.58,297.73 L410.34,297.57 L411.09,297.41 L411.85,297.24 L412.60,297.08 L413.36,296.92 L414.11,296.77 L414.86,296.61 L415.62,296.46 L416.37,296.30 L417.13,296.15 L417.88,296.00 L417.88,391.1 L297.97,391.1 Z" fill="#FFE6CC" stroke="none"/>
<line x1="258.0" y1="264.3" x2="258.0" y2="391.1" stroke="#9a9a9a" stroke-width="0.8"/>
<line x1="258.0" y1="391.1" x2="417.88" y2="391.1" stroke="#9a9a9a" stroke-width="0.8"/>
<line x1="258.00" y1="391.1" x2="258.00" y2="388.5" stroke="#9a9a9a" stroke-width="0.6"/>
<line x1="265.99" y1="391.1" x2="265.99" y2="389.5" stroke="#9a9a9a" stroke-width="0.6"/>
<line x1="273.99" y1="391.1" x2="273.99" y2="389.5" stroke="#9a9a9a" stroke-width="0.6"/>
<line x1="281.98" y1="391.1" x2="281.98" y2="389.5" stroke="#9a9a9a" stroke-width="0.6"/>
<line x1="289.98" y1="391.1" x2="289.98" y2="389.5" stroke="#9a9a9a" stroke-width="0.6"/>
<line x1="297.97" y1="391.1" x2="297.97" y2="388.5" stroke="#9a9a9a" stroke-width="0.6"/>
<line x1="305.96" y1="391.1" x2="305.96" y2="389.5" stroke="#9a9a9a" stroke-width="0.6"/>
<line x1="313.96" y1="391.1" x2="313.96" y2="389.5" stroke="#9a9a9a" stroke-width="0.6"/>
<line x1="321.95" y1="391.1" x2="321.95" y2="389.5" stroke="#9a9a9a" stroke-width="0.6"/>
<line x1="329.95" y1="391.1" x2="329.95" y2="389.5" stroke="#9a9a9a" stroke-width="0.6"/>
<line x1="337.94" y1="391.1" x2="337.94" y2="388.5" stroke="#9a9a9a" stroke-width="0.6"/>
<line x1="345.93" y1="391.1" x2="345.93" y2="389.5" stroke="#9a9a9a" stroke-width="0.6"/>
<line x1="353.93" y1="391.1" x2="353.93" y2="389.5" stroke="#9a9a9a" stroke-width="0.6"/>
<line x1="361.92" y1="391.1" x2="361.92" y2="389.5" stroke="#9a9a9a" stroke-width="0.6"/>
<line x1="369.92" y1="391.1" x2="369.92" y2="389.5" stroke="#9a9a9a" stroke-width="0.6"/>
<line x1="377.91" y1="391.1" x2="377.91" y2="388.5" stroke="#9a9a9a" stroke-width="0.6"/>
<line x1="385.90" y1="391.1" x2="385.90" y2="389.5" stroke="#9a9a9a" stroke-width="0.6"/>
<line x1="393.90" y1="391.1" x2="393.90" y2="389.5" stroke="#9a9a9a" stroke-width="0.6"/>
<line x1="401.89" y1="391.1" x2="401.89" y2="389.5" stroke="#9a9a9a" stroke-width="0.6"/>
<line x1="409.89" y1="391.1" x2="409.89" y2="389.5" stroke="#9a9a9a" stroke-width="0.6"/>
<line x1="417.88" y1="391.1" x2="417.88" y2="388.5" stroke="#9a9a9a" stroke-width="0.6"/>
<line x1="258.0" y1="264.3" x2="417.08" y2="264.3" stroke="#111" stroke-width="1.05" stroke-dasharray="1.1 1.1"/>
<path d="M258.0,391.1 L297.97,391.1 297.97,391.10 L298.72,388.75 L299.48,386.49 L300.23,384.31 L300.99,382.20 L301.74,380.17 L302.49,378.21 L303.25,376.31 L304.00,374.47 L304.76,372.69 L305.51,370.97 L306.27,369.31 L307.02,367.69 L307.77,366.12 L308.53,364.60 L309.28,363.13 L310.04,361.70 L310.79,360.31 L311.54,358.95 L312.30,357.64 L313.05,356.36 L313.81,355.12 L314.56,353.91 L315.32,352.73 L316.07,351.58 L316.82,350.46 L317.58,349.37 L318.33,348.31 L319.09,347.27 L319.84,346.26 L320.59,345.27 L321.35,344.30 L322.10,343.36 L322.86,342.44 L323.61,341.55 L324.37,340.67 L325.12,339.81 L325.87,338.97 L326.63,338.15 L327.38,337.35 L328.14,336.56 L328.89,335.79 L329.64,335.04 L330.40,334.30 L331.15,333.58 L331.91,332.88 L332.66,332.18 L333.42,331.50 L334.17,330.84 L334.92,330.19 L335.68,329.55 L336.43,328.92 L337.19,328.30 L337.94,327.70 L338.69,327.11 L339.45,326.53 L340.20,325.96 L340.96,325.39 L341.71,324.84 L342.46,324.30 L343.22,323.77 L343.97,323.25 L344.73,322.74 L345.48,322.23 L346.24,321.74 L346.99,321.25 L347.74,320.77 L348.50,320.30 L349.25,319.84 L350.01,319.39 L350.76,318.94 L351.51,318.50 L352.27,318.06 L353.02,317.64 L353.78,317.22 L354.53,316.80 L355.29,316.40 L356.04,316.00 L356.79,315.60 L357.55,315.21 L358.30,314.83 L359.06,314.45 L359.81,314.08 L360.56,313.71 L361.32,313.35 L362.07,313.00 L362.83,312.65 L363.58,312.30 L364.34,311.96 L365.09,311.63 L365.84,311.30 L366.60,310.97 L367.35,310.65 L368.11,310.33 L368.86,310.02 L369.61,309.71 L370.37,309.40 L371.12,309.10 L371.88,308.81 L372.63,308.51 L373.39,308.22 L374.14,307.94 L374.89,307.66 L375.65,307.38 L376.40,307.11 L377.16,306.83 L377.91,306.57 L378.66,306.30 L379.42,306.04 L380.17,305.78 L380.93,305.53 L381.68,305.28 L382.43,305.03 L383.19,304.78 L383.94,304.54 L384.70,304.30 L385.45,304.07 L386.21,303.83 L386.96,303.60 L387.71,303.37 L388.47,303.15 L389.22,302.92 L389.98,302.70 L390.73,302.48 L391.48,302.27 L392.24,302.06 L392.99,301.84 L393.75,301.64 L394.50,301.43 L395.26,301.23 L396.01,301.02 L396.76,300.82 L397.52,300.63 L398.27,300.43 L399.03,300.24 L399.78,300.05 L400.53,299.86 L401.29,299.67 L402.04,299.49 L402.80,299.30 L403.55,299.12 L404.31,298.94 L405.06,298.76 L405.81,298.59 L406.57,298.41 L407.32,298.24 L408.08,298.07 L408.83,297.90 L409.58,297.73 L410.34,297.57 L411.09,297.41 L411.85,297.24 L412.60,297.08 L413.36,296.92 L414.11,296.77 L414.86,296.61 L415.62,296.46 L416.37,296.30 L417.13,296.15 L417.88,296.00" fill="none" stroke="#FF8000" stroke-width="1.2"/>
<path d="M258.0,391.1 L297.97,391.1 L297.97,391.10 L298.72,387.64 L299.48,384.43 L300.23,381.45 L300.99,378.67 L301.74,376.08 L302.49,373.66 L303.25,371.40 L304.00,369.28 L304.76,367.30 L305.51,365.45 L306.27,363.71 L307.02,362.07 L307.77,360.53 L308.53,359.08 L309.28,357.72 L310.04,356.43 L310.79,355.22 L311.54,354.07 L312.30,352.99 L313.05,351.96 L313.81,350.99 L314.56,350.07 L315.32,349.20 L316.07,348.37 L316.82,347.59 L317.58,346.84 L318.33,346.14 L319.09,345.46 L319.84,344.82 L320.59,344.21 L321.35,343.62 L322.10,343.07 L322.86,342.54 L323.61,342.03 L324.37,341.55 L325.12,341.09 L325.87,340.65 L326.63,340.23 L327.38,339.82 L328.14,339.43 L328.89,339.06 L329.64,338.71 L330.40,338.37 L331.15,338.04 L331.91,337.73 L332.66,337.43 L333.42,337.14 L334.17,336.86 L334.92,336.59 L335.68,336.34 L336.43,336.09 L337.19,335.85 L337.94,335.62 L338.69,335.40 L339.45,335.19 L340.20,334.99 L340.96,334.79 L341.71,334.60 L342.46,334.42 L343.22,334.24 L343.97,334.07 L344.73,333.91 L345.48,333.75 L346.24,333.59 L346.99,333.44 L347.74,333.30 L348.50,333.16 L349.25,333.03 L350.01,332.90 L350.76,332.77 L351.51,332.65 L352.27,332.53 L353.02,332.42 L353.78,332.31 L354.53,332.20 L355.29,332.10 L356.04,332.00 L356.79,331.90 L357.55,331.80 L358.30,331.71 L359.06,331.62 L359.81,331.54 L360.56,331.45 L361.32,331.37 L362.07,331.29 L362.83,331.21 L363.58,331.14 L364.34,331.07 L365.09,331.00 L365.84,330.93 L366.60,330.86 L367.35,330.80 L368.11,330.73 L368.86,330.67 L369.61,330.61 L370.37,330.55 L371.12,330.50 L371.88,330.44 L372.63,330.39 L373.39,330.34 L374.14,330.28 L374.89,330.23 L375.65,330.19 L376.40,330.14 L377.16,330.09 L377.91,330.05 L378.66,330.00 L379.42,329.96 L380.17,329.92 L380.93,329.88 L381.68,329.84 L382.43,329.80 L383.19,329.76 L383.94,329.73 L384.70,329.69 L385.45,329.66 L386.21,329.62 L386.96,329.59 L387.71,329.55 L388.47,329.52 L389.22,329.49 L389.98,329.46 L390.73,329.43 L391.48,329.40 L392.24,329.37 L392.99,329.35 L393.75,329.32 L394.50,329.29 L395.26,329.27 L396.01,329.24 L396.76,329.22 L397.52,329.19 L398.27,329.17 L399.03,329.14 L399.78,329.12 L400.53,329.10 L401.29,329.08 L402.04,329.05 L402.80,329.03 L403.55,329.01 L404.31,328.99 L405.06,328.97 L405.81,328.95 L406.57,328.93 L407.32,328.92 L408.08,328.90 L408.83,328.88 L409.58,328.86 L410.34,328.85 L411.09,328.83 L411.85,328.81 L412.60,328.80 L413.36,328.78 L414.11,328.76 L414.86,328.75 L415.62,328.73 L416.37,328.72 L417.13,328.70 L417.88,328.69" fill="none" stroke="#0000FF" stroke-width="1.55" stroke-linejoin="round"/>
<text transform="translate(222.2,252.3) scale(1.15,1)" font-size="15.9" font-weight="bold" stroke="#000" stroke-width="0.5">D</text>
<text x="299.9" y="252.6" font-size="13" font-style="italic">n</text>
<path d="M310.2,249.5 H320.4 M317.3,246.7 L320.6,249.5 L317.3,252.3" fill="none" stroke="#000" stroke-width="0.95" stroke-linejoin="miter"/>
<path d="M334.80,249.50 L334.75,250.10 L334.58,250.65 L334.31,251.08 L333.95,251.35 L333.50,251.45 L332.97,251.35 L332.37,251.08 L331.73,250.65 L331.05,250.10 L330.35,249.50 L329.65,248.90 L328.97,248.35 L328.33,247.92 L327.73,247.65 L327.20,247.55 L326.75,247.65 L326.39,247.92 L326.12,248.35 L325.95,248.90 L325.90,249.50 L325.95,250.10 L326.12,250.65 L326.39,251.08 L326.75,251.35 L327.20,251.45 L327.73,251.35 L328.33,251.08 L328.97,250.65 L329.65,250.10 L330.35,249.50 L331.05,248.90 L331.73,248.35 L332.37,247.92 L332.97,247.65 L333.50,247.55 L333.95,247.65 L334.31,247.92 L334.58,248.35 L334.75,248.90 L334.80,249.50 Z" fill="none" stroke="#000" stroke-width="1.05" stroke-linejoin="round"/>
<text x="336.0" y="252.6" font-size="13">, <tspan font-style="italic">m</tspan> = 2</text>
<text x="255.2" y="268.7" font-size="12.5" text-anchor="end">1</text>
<text x="255.8" y="394.7" font-size="12.5" text-anchor="end">0</text>
<text x="258.00" y="405.8" font-size="12.5" text-anchor="middle">0</text>
<text x="297.97" y="405.8" font-size="12.5" text-anchor="middle">1</text>
<text x="337.94" y="405.8" font-size="12.5" text-anchor="middle">2</text>
<text x="377.91" y="405.8" font-size="12.5" text-anchor="middle">3</text>
<text x="417.88" y="405.8" font-size="12.5" text-anchor="middle">4</text>
<text x="338.2" y="424.7" font-size="12.8" text-anchor="middle">Mutant Fitness, <tspan font-style="italic">r</tspan></text>
<text transform="translate(241.5,327.3) rotate(-90)" font-size="13.05" text-anchor="middle">Fixation probability, <tspan font-style="italic">ρ</tspan></text>
</svg>
</body>
</html>
